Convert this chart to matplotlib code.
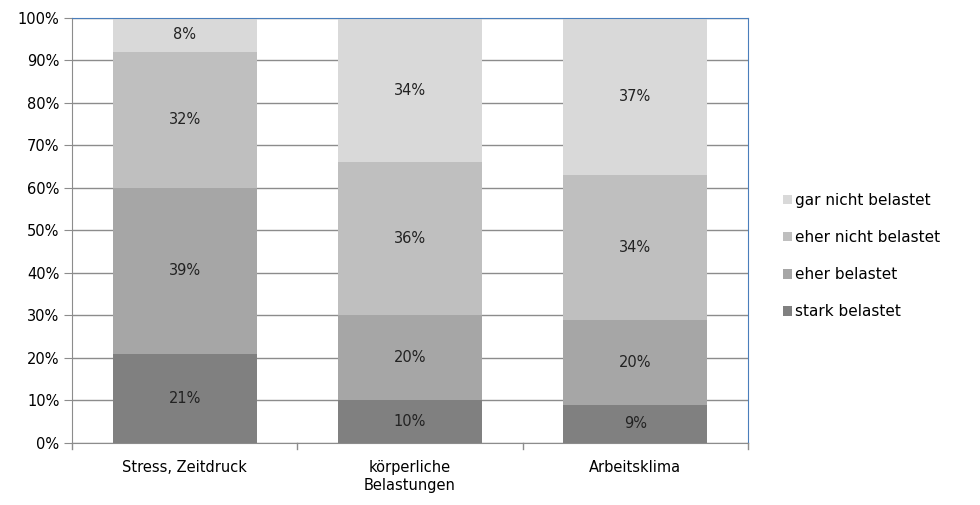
import matplotlib
matplotlib.use("Agg")
import matplotlib.pyplot as plt
from matplotlib.patches import Patch

categories = ["Stress, Zeitdruck", "körperliche\nBelastungen", "Arbeitsklima"]
series_names = ["stark belastet", "eher belastet", "eher nicht belastet", "gar nicht belastet"]
stark = [21, 10, 9]
eher = [39, 20, 20]
eher_nicht = [32, 36, 34]
gar_nicht = [8, 34, 37]
colors = ["#808080", "#a6a6a6", "#bfbfbf", "#d9d9d9"]
y_ticks = [0, 10, 20, 30, 40, 50, 60, 70, 80, 90, 100]

plt.rcParams["font.family"] = ["DejaVu Sans"]
fs = 10.5
fig = plt.figure(figsize=(9.8, 5.05), dpi=100)
ax = fig.add_axes([0.0735, 0.1228, 0.6898, 0.8416])

x = list(range(len(categories)))
bottom = [0, 0, 0]
for name, vals, col in zip(series_names, [stark, eher, eher_nicht, gar_nicht], colors):
    ax.bar(x, vals, bottom=bottom, width=0.64, color=col, edgecolor="none", zorder=2)
    for xi, v, b in zip(x, vals, bottom):
        ax.text(xi, b + v / 2, f"{v}%", ha="center", va="center", fontsize=fs, color="#222222", zorder=3)
    bottom = [b + v for b, v in zip(bottom, vals)]

ax.set_xlim(-0.5, len(categories) - 0.5)
ax.set_ylim(0, 100)
ax.set_yticks(y_ticks)
ax.set_yticklabels([f"{t}%" for t in y_ticks], fontsize=fs)
ax.yaxis.grid(True, color="#8c8c8c", linewidth=1, zorder=1)
ax.set_axisbelow(True)

ax.set_xticks(x)
ax.set_xticklabels(categories, fontsize=fs, linespacing=1.3)
ax.tick_params(axis="x", length=0, pad=12)
ax.tick_params(axis="y", length=6, color="#8c8c8c", pad=3)
# separator ticks between categories
for bx in [-0.5, 0.5, 1.5, 2.5]:
    ax.plot([bx, bx], [0, -1.5], color="#8c8c8c", lw=1, clip_on=False)

for s in ["left", "bottom"]:
    ax.spines[s].set_color("#8c8c8c")
for s in ["top", "right"]:
    ax.spines[s].set_color("#4a7ebb")

handles = [Patch(facecolor=c, edgecolor="none") for c in colors][::-1]
fig.legend(handles, series_names[::-1], loc="center left", bbox_to_anchor=(0.785, 0.493),
           frameon=False, fontsize=fs + 0.5, handlelength=0.6, handleheight=0.6,
           handletextpad=0.2, labelspacing=1.45)

fig.savefig("out.png", dpi=100)
